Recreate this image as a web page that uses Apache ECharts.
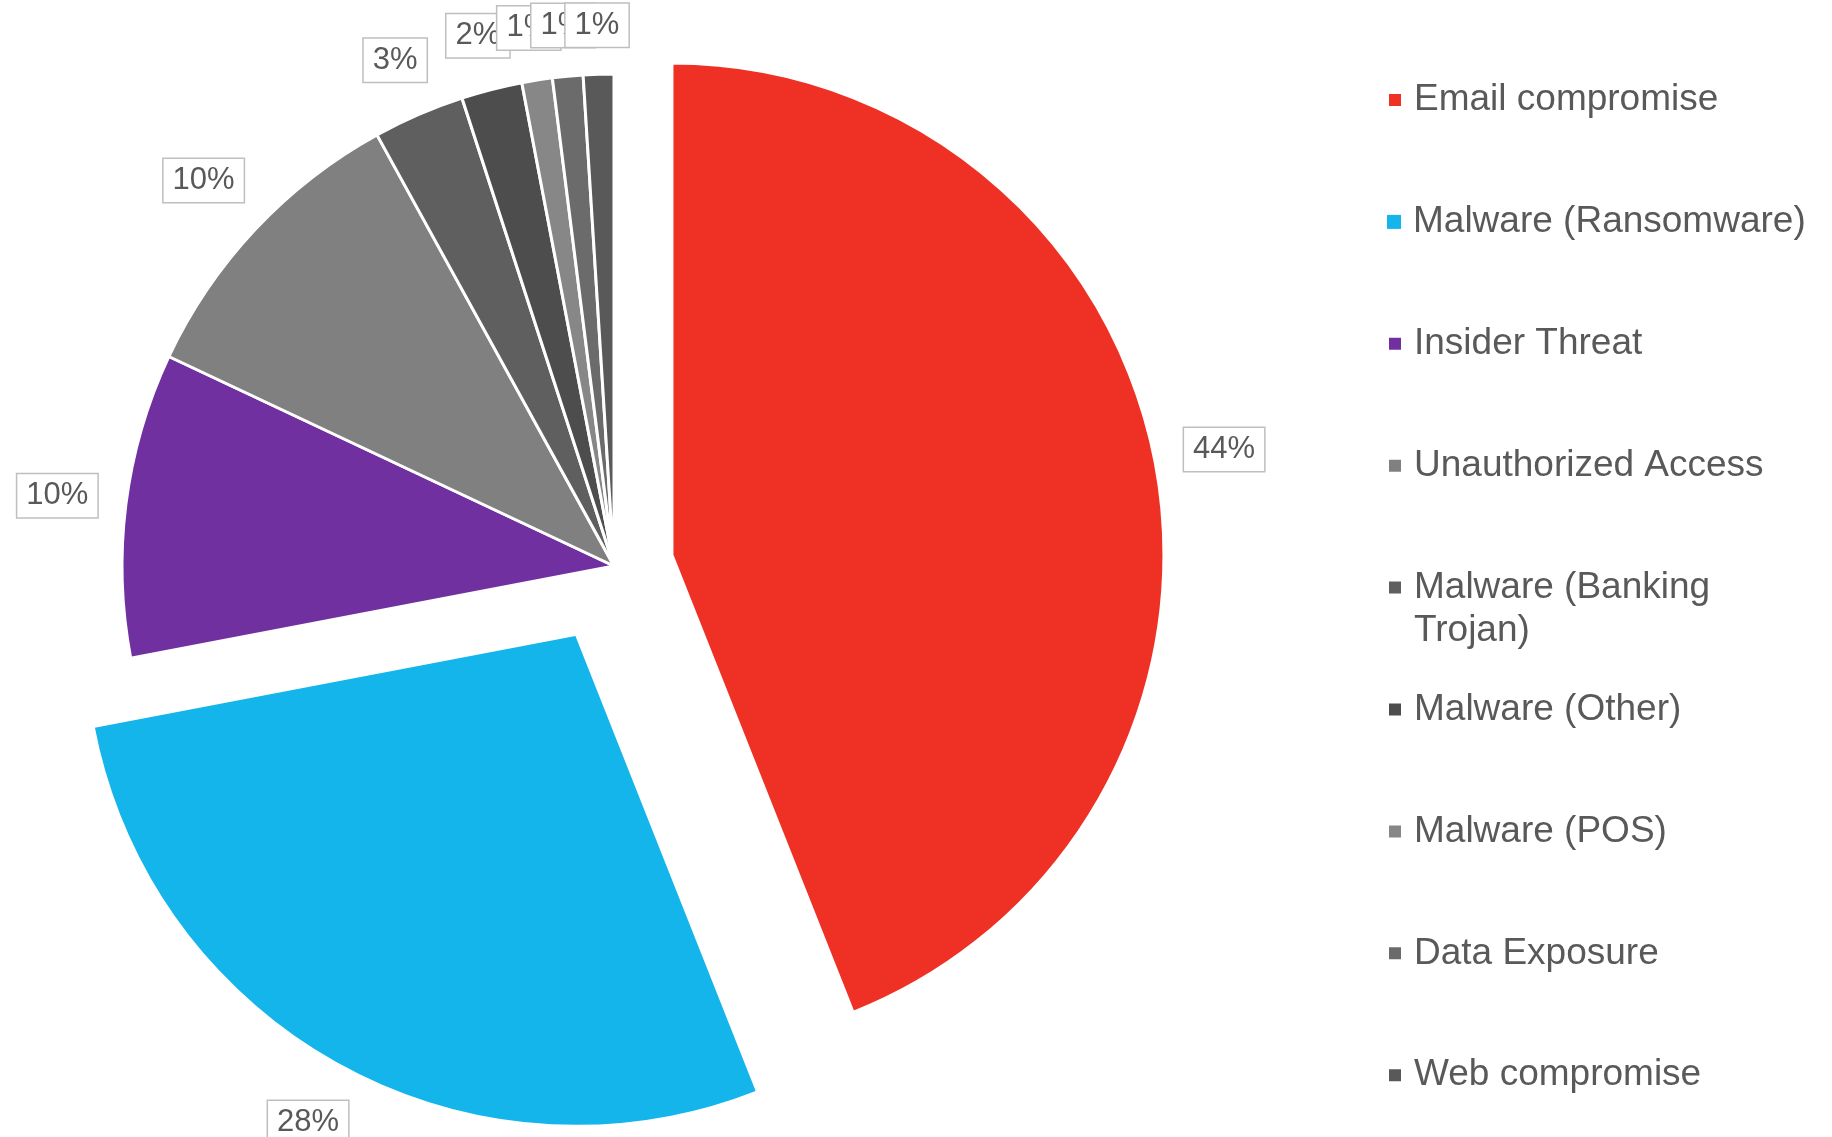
<!DOCTYPE html>
<html>
<head>
<meta charset="utf-8">
<title>Incident types</title>
<script src="https://cdn.jsdelivr.net/npm/echarts@6/dist/echarts.min.js"></script>
<style>
  html, body { margin: 0; padding: 0; background: #ffffff; }
  #chart { width: 1832px; height: 1137px; }
</style>
</head>
<body>
<div id="chart"></div>
<script>
// Incident categories and their share of all cases (percent)
const categories = [
  'Email compromise',
  'Malware (Ransomware)',
  'Insider Threat',
  'Unauthorized Access',
  'Malware (Banking Trojan)',
  'Malware (Other)',
  'Malware (POS)',
  'Data Exposure',
  'Web compromise'
];
const shares = [44, 28, 10, 10, 3, 2, 1, 1, 1];
// Legend text as it is wrapped on screen (a leading blank line keeps
// the first line of a wrapped entry level with its icon)
const legendLabels = [
  'Email compromise',
  'Malware (Ransomware)',
  'Insider Threat',
  'Unauthorized Access',
  '\nMalware (Banking\nTrojan)',
  'Malware (Other)',
  'Malware (POS)',
  'Data Exposure',
  'Web compromise'
];
// Slices pulled out of the pie and how far (px)
const explodedNames = ['Email compromise', 'Malware (Ransomware)'];
const explodedOffsets = [59, 78];

const palette = ['#EE3124', '#13B5EA', '#7030A0', '#808080', '#5F5F5F', '#4D4D4D', '#878787', '#6B6B6B', '#595959'];
const FONT = 'Arial, "Liberation Sans", Helvetica, sans-serif';
const TEXT = '#595959';
const CENTER = [614, 566];
const RADIUS = 492;
const LABEL_LEN = 46;   // radial distance of the label anchor beyond the rim
const LABEL_GAP = 25;   // clear space kept between the rim and a label box

// One legend block per entry so that every icon sits on a fixed row,
// even when an entry wraps onto a second line.
const LEGEND_LINE = 43;
const LEGEND_FIRST = 100;
const LEGEND_STEP = 121.9;
const legends = categories.map(function (name, i) {
  const label = legendLabels[i];
  const lines = label.split('\n').length;
  const centerY = LEGEND_FIRST + i * LEGEND_STEP;
  return {
    orient: 'vertical',
    left: 1387,
    top: centerY - (LEGEND_LINE * lines) / 2,
    padding: 0,
    itemWidth: 14,
    itemHeight: 14,
    icon: 'rect',
    selectedMode: false,
    data: [{ name: name, itemStyle: { color: palette[i] } }],
    formatter: function () { return label; },
    textStyle: {
      fontSize: 37,
      lineHeight: LEGEND_LINE,
      color: TEXT,
      fontFamily: FONT,
      padding: [0, 0, 0, 7]
    }
  };
});

// Centre each label box on its slice direction and push it out until the
// box edge nearest the pie keeps the same gap from the rim.
function placeLabel(p) {
  const r = p.labelRect;
  let ax = r.x + r.width / 2;
  if (p.align === 'left') ax = r.x;
  else if (p.align === 'right') ax = r.x + r.width;
  const ay = r.y + r.height / 2;
  let ux = ax - CENTER[0];
  let uy = ay - CENTER[1];
  const d = Math.sqrt(ux * ux + uy * uy) || 1;
  ux /= d; uy /= d;
  const reach = Math.abs(ux) * r.width / 2 + Math.abs(uy) * r.height / 2;
  const push = LABEL_GAP + reach - LABEL_LEN;
  return { align: 'center', dx: ux * push, dy: uy * push, hideOverlap: false };
}

// Each pie layer draws every slice so the angles stay shared; slices that
// belong to another layer are left transparent.
function pieLayer(visible, offset) {
  return {
    type: 'pie',
    center: CENTER,
    radius: RADIUS,
    startAngle: 90,
    clockwise: true,
    selectedMode: 'multiple',
    selectedOffset: offset,
    avoidLabelOverlap: false,
    percentPrecision: 0,
    label: {
      show: true,
      position: 'outside',
      formatter: '{d}%',
      fontSize: 31,
      lineHeight: 31,
      fontFamily: FONT,
      color: TEXT,
      backgroundColor: '#ffffff',
      borderColor: '#BFBFBF',
      borderWidth: 1.5,
      padding: [6, 9],
      distanceToLabelLine: 0
    },
    labelLine: { show: false, length: LABEL_LEN, length2: 0 },
    labelLayout: placeLabel,
    emphasis: { disabled: true },
    data: categories.map(function (name, i) {
      const shown = visible(name);
      return {
        name: name,
        value: shares[i],
        selected: shown && explodedNames.indexOf(name) >= 0,
        itemStyle: shown
          ? { color: palette[i], borderColor: '#ffffff', borderWidth: 3 }
          : { color: 'rgba(0,0,0,0)', borderWidth: 0 },
        label: { show: shown }
      };
    })
  };
}

const chart = echarts.init(document.getElementById('chart'), null, { renderer: 'canvas' });
chart.setOption({
  animation: false,
  color: palette,
  legend: legends,
  series: [
    pieLayer(function (n) { return n !== explodedNames[1]; }, explodedOffsets[0]),
    pieLayer(function (n) { return n === explodedNames[1]; }, explodedOffsets[1])
  ]
});
</script>
</body>
</html>
